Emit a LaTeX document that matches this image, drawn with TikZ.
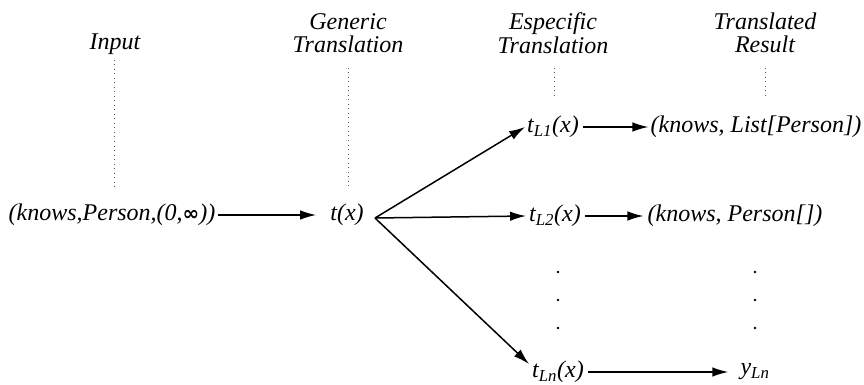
\documentclass[tikz,border=0pt]{standalone}
\usepackage{fontspec}
\setmainfont{Liberation Serif}
\newfontfamily\symfont{DejaVu Sans}
\usetikzlibrary{arrows.meta}

\tikzset{
  txt/.style={font=\fontsize{24}{23.5}\selectfont\itshape, inner sep=0pt},
  hdr/.style={txt, align=center},
  arr/.style={-{Latex[length=16pt,width=9.5pt]}, line width=1.5pt},
  guide/.style={line width=0.9pt, black!65, dash pattern=on 0.9pt off 3.6pt}
}

\begin{document}
\begin{tikzpicture}[x=1pt, y=-1pt]
\useasboundingbox (0,0) rectangle (864,385);

% column heads
\node[hdr] (hin)  at (115,44) {Input};
\node[hdr] (hgen) at (348,33) {Generic\\Translation};
\node[hdr] (hesp) at (553,33) {Especific\\Translation};
\node[hdr] (hres) at (765,33) {Translated\\Result};

% terms
\node[txt] (in)  at (112,215) {(knows,Person,(0,{\symfont\bfseries\fontsize{20}{20}\selectfont ∞}))};
\node[txt] (gen) at (347,215) {t(x)};
\node[txt] (tl1) at (553,127) {t\textsubscript{L1}(x)};
\node[txt] (tl2) at (555,216) {t\textsubscript{L2}(x)};
\node[txt] (tln) at (558,372) {t\textsubscript{Ln}(x)};
\node[txt] (r1)  at (756,127) {(knows, List[Person])};
\node[txt] (r2)  at (735,216) {(knows, Person[])};
\node[txt] (rn)  at (755,372) {y\textsubscript{Ln}};
\coordinate (fork) at (375,218);

% dotted guides under the heads
\draw[guide] (114,60) -- (114,188);
\draw[guide] (348,68) -- (348,188);
\draw[guide] (554,68) -- (554,98);
\draw[guide] (765,68) -- (765,98);

% elided rows
\foreach \y in {272,300,328} {
  \fill (558,\y) circle (1.3pt);
  \fill (755,\y) circle (1.3pt);
}

\draw[arr, shorten <=2pt, shorten >=14pt] (in.east) -- (gen.west);
\draw[arr] (fork) -- ([xshift=-2pt]tl1.west);
\draw[arr] (fork) -- ([xshift=-3pt]tl2.west);
\draw[arr] (fork) -- ([shift={(-3pt,8pt)}]tln.west);
\draw[arr, shorten <=4pt, shorten >=2pt] (tl1.east) -- (r1.west);
\draw[arr, shorten <=4pt, shorten >=4pt] (tl2.east) -- (r2.west);
\draw[arr, shorten <=4pt, shorten >=12pt] (tln.east) -- (rn.west);
\end{tikzpicture}
\end{document}
